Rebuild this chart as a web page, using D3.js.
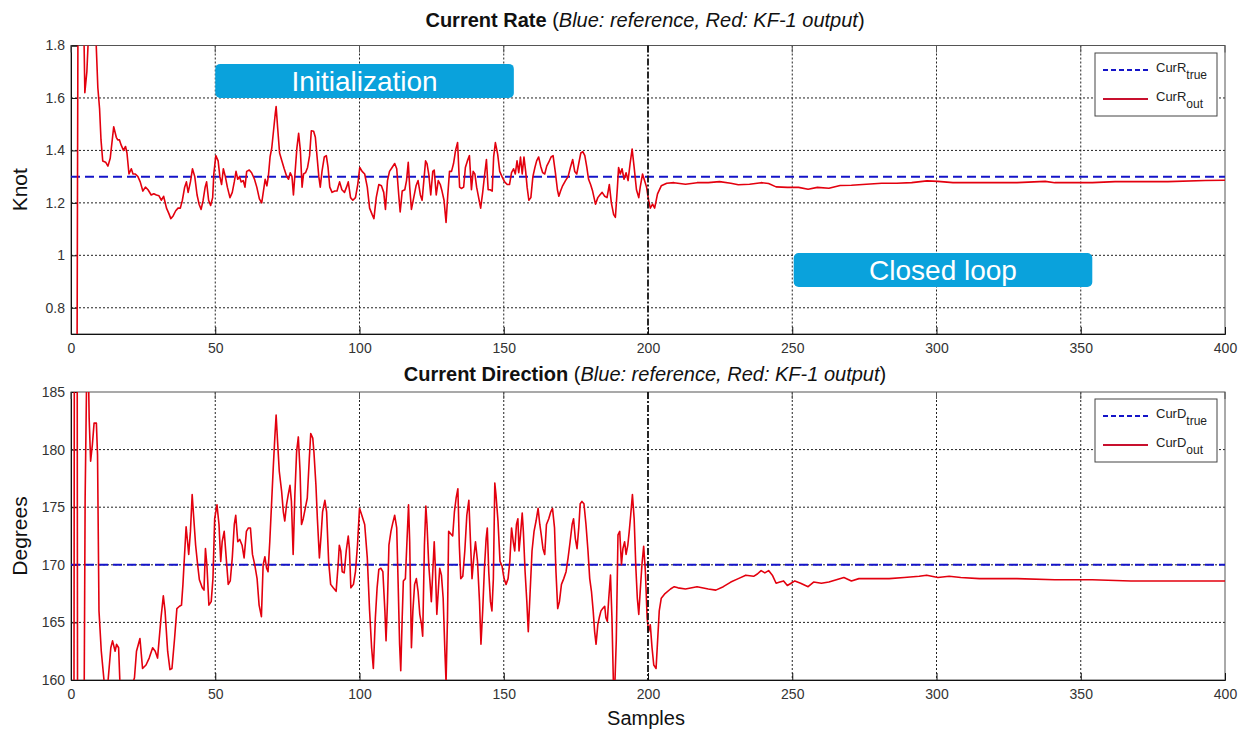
<!DOCTYPE html>
<html>
<head>
<meta charset="utf-8">
<script src="https://cdn.jsdelivr.net/npm/d3@7/dist/d3.min.js"></script>
<style>
  html, body { margin: 0; padding: 0; background: #fff; }
  svg { display: block; font-family: "Liberation Sans", Arial, sans-serif; }
</style>
</head>
<body>
<svg id="chart" width="1246" height="731"></svg>
<script>
// ---------------- DATA ----------------
const xTicks = [0, 50, 100, 150, 200, 250, 300, 350, 400];
const rateTicks = [0.8, 1, 1.2, 1.4, 1.6, 1.8];
const dirTicks = [160, 165, 170, 175, 180, 185];
const rateTrue = 1.3;
const dirTrue = 170;
const switchSample = 200;

// Current rate, KF-1 output: [sample, knot]
const rateOut = [[0,0.2],[1,0.2],[2,0.2],[2.3,1.45],[2.6,2.6],[3.5,2.3],[4.4,1.9],[4.8,1.62],[5.5,1.7],[6.3,1.9],[7.4,2.1],[8.5,1.87],[9.3,1.64],[9.9,1.56],[10.4,1.44],[11,1.36],[12,1.355],[12.8,1.34],[13.6,1.37],[14.3,1.44],[14.8,1.49],[15.7,1.45],[16.2,1.44],[16.8,1.44],[17.4,1.42],[18.2,1.4],[18.9,1.415],[19.4,1.39],[20.1,1.31],[20.9,1.33],[21.5,1.31],[22.3,1.31],[23.2,1.3],[24,1.28],[24.9,1.245],[25.8,1.26],[26.7,1.25],[27.8,1.23],[28.7,1.235],[29.6,1.23],[30.5,1.227],[31.3,1.21],[32.1,1.225],[33.1,1.18],[33.9,1.16],[34.6,1.14],[35.4,1.15],[36.3,1.17],[37.1,1.18],[37.9,1.18],[38.6,1.21],[39.4,1.26],[40,1.28],[40.6,1.24],[41.4,1.28],[42.1,1.33],[42.9,1.30],[43.7,1.23],[44.4,1.195],[45.1,1.175],[45.8,1.21],[46.5,1.26],[47,1.28],[47.7,1.21],[48.4,1.19],[49.1,1.22],[49.5,1.31],[50.2,1.38],[51,1.36],[51.6,1.30],[52.2,1.27],[52.8,1.33],[53.5,1.30],[54.2,1.26],[55.1,1.22],[55.9,1.24],[56.6,1.28],[57.2,1.32],[57.8,1.29],[58.4,1.30],[59,1.28],[59.7,1.285],[60.3,1.26],[60.9,1.32],[61.8,1.325],[62.6,1.315],[63.6,1.29],[64.4,1.26],[65.3,1.215],[66.1,1.20],[66.7,1.245],[67.3,1.29],[67.9,1.265],[68.4,1.30],[69,1.375],[69.6,1.41],[70.2,1.475],[70.8,1.54],[71.1,1.567],[71.6,1.49],[72.3,1.39],[73.1,1.36],[73.9,1.33],[74.8,1.30],[75.4,1.29],[76,1.315],[76.6,1.30],[77.1,1.23],[77.7,1.32],[78.3,1.41],[78.9,1.465],[79.5,1.40],[80.1,1.26],[80.6,1.31],[81.3,1.315],[82,1.335],[82.7,1.38],[83.3,1.475],[84.1,1.473],[84.7,1.45],[85.3,1.375],[85.9,1.30],[86.4,1.26],[87,1.32],[87.8,1.375],[88.5,1.38],[89.1,1.335],[89.7,1.26],[90.5,1.24],[91.4,1.245],[92.2,1.245],[93.1,1.28],[93.9,1.25],[94.8,1.24],[95.5,1.26],[96.1,1.28],[96.9,1.22],[97.7,1.21],[98.6,1.22],[99.4,1.27],[100.1,1.335],[100.9,1.32],[101.8,1.31],[102.7,1.26],[103.5,1.18],[104.4,1.155],[105,1.14],[105.8,1.22],[106.7,1.27],[107.6,1.265],[108.4,1.24],[109,1.175],[109.7,1.285],[110.4,1.32],[111.3,1.335],[112.2,1.35],[112.9,1.33],[113.6,1.23],[114.1,1.165],[114.8,1.245],[115.7,1.25],[116.3,1.285],[116.9,1.355],[117.4,1.26],[118,1.175],[118.8,1.22],[119.6,1.265],[120.3,1.285],[121.1,1.23],[121.7,1.21],[122.3,1.285],[122.9,1.36],[123.4,1.35],[124,1.31],[124.7,1.23],[125.4,1.32],[125.9,1.325],[126.6,1.23],[127.3,1.285],[128,1.27],[128.6,1.245],[129.3,1.21],[130,1.125],[130.6,1.23],[131.2,1.32],[131.9,1.32],[132.6,1.35],[133.3,1.40],[134,1.43],[134.7,1.26],[135.3,1.255],[136.1,1.26],[136.7,1.335],[137.4,1.36],[138.1,1.38],[138.8,1.25],[139.4,1.32],[140,1.31],[140.6,1.26],[141.3,1.22],[142,1.18],[142.7,1.24],[143.4,1.31],[144,1.365],[144.6,1.25],[145.3,1.25],[146,1.245],[146.5,1.375],[147.1,1.43],[147.9,1.385],[148.6,1.32],[149.4,1.30],[150.3,1.28],[151.2,1.27],[152,1.27],[152.7,1.315],[153.4,1.33],[154,1.31],[154.6,1.36],[155.2,1.315],[155.8,1.375],[156.4,1.31],[157,1.375],[157.6,1.32],[158.1,1.26],[158.7,1.21],[159.4,1.22],[160.1,1.30],[160.8,1.335],[161.4,1.36],[162.1,1.375],[162.8,1.34],[163.5,1.315],[164.2,1.31],[164.9,1.34],[165.6,1.355],[166.4,1.375],[167.1,1.38],[167.9,1.315],[168.6,1.25],[169.1,1.225],[169.7,1.245],[170.4,1.265],[171.4,1.285],[172.3,1.30],[173.1,1.335],[173.9,1.365],[174.6,1.32],[175.3,1.31],[176,1.35],[176.7,1.39],[177.4,1.395],[178.1,1.38],[178.8,1.335],[179.4,1.29],[180.1,1.27],[180.8,1.245],[181.8,1.195],[182.6,1.22],[183.3,1.23],[184.1,1.24],[185,1.225],[185.8,1.22],[186.6,1.27],[187.3,1.20],[188.1,1.155],[188.7,1.145],[189.4,1.26],[189.8,1.335],[190.4,1.31],[191,1.33],[191.7,1.29],[192.4,1.315],[193.1,1.285],[193.8,1.35],[194.5,1.405],[195.2,1.335],[196,1.25],[196.8,1.22],[197.3,1.26],[198.1,1.31],[198.8,1.285],[199.5,1.26],[200.2,1.21],[200.8,1.18],[201.6,1.195],[202.3,1.18],[203.3,1.234],[204.6,1.265],[206.5,1.275],[209,1.277],[213,1.271],[217,1.277],[220.9,1.277],[224.8,1.281],[228.7,1.275],[231.3,1.269],[235.2,1.271],[239.2,1.277],[241.8,1.274],[244.4,1.261],[248.3,1.259],[252.2,1.259],[255.5,1.252],[258.7,1.259],[262.7,1.256],[266.6,1.266],[270.5,1.267],[275.7,1.271],[281,1.275],[286.2,1.275],[291.4,1.277],[296.7,1.284],[300.5,1.282],[305.7,1.277],[314.9,1.277],[327.9,1.277],[337.7,1.282],[341,1.277],[354,1.277],[361.9,1.281],[380.2,1.281],[393.2,1.285],[400,1.286]];

// Current direction, KF-1 output: [sample, degrees]
const dirOut = [[0,150],[1,150],[1.2,200],[2.1,200],[2.3,150],[4.4,150],[4.9,175.8],[5.7,192],[6.3,182.7],[6.8,179],[7.4,180.4],[8,182.3],[8.8,182.3],[9.2,179.5],[9.7,166],[10.5,162.5],[11.8,159],[12.6,159.2],[13.8,162.8],[14.4,163.4],[15.3,162.5],[15.8,163.1],[16.5,162.8],[17,159.5],[18,159],[19,159],[20.8,159.2],[22,160.2],[22.7,162.5],[23.9,163.6],[24.8,161],[26,161.3],[27.1,161.9],[28.3,162.8],[29.2,162.5],[30,161.9],[31.2,165.4],[32,167.3],[32.6,166],[33.5,162.5],[34.3,160.9],[35,161],[35.9,163.6],[36.7,166.2],[37.6,166.4],[38.3,166.5],[38.8,168.3],[39.3,170.6],[39.9,173.3],[40.4,172],[40.8,170.9],[41.4,172.9],[42,176.1],[42.4,174.6],[43.2,171.7],[43.9,170],[44.5,168.7],[45.5,168],[46.1,167.8],[46.6,171.4],[47.1,170],[47.8,166.5],[48.6,166.8],[49.2,168.8],[49.8,174],[50.6,175.2],[51.3,173.5],[51.9,170.3],[52.4,172],[53.1,172.9],[53.8,170.6],[54.5,168.3],[55.2,168.6],[55.9,170.6],[56.6,173.5],[57.1,174.3],[57.8,172],[58.5,172.2],[59.3,171.7],[60,170.6],[60.8,172.9],[61.5,173.2],[62.2,173.2],[62.9,170.9],[63.7,170],[64.5,168.8],[65.2,166.5],[66,165.5],[66.6,170],[67.2,170.7],[67.8,169.7],[68.3,169.4],[68.9,172],[69.5,175.2],[70.1,178.4],[70.7,181.3],[71.1,183],[71.6,180.7],[72.2,178.1],[73,176.4],[73.6,174.6],[74.1,173.8],[74.7,175.2],[75.3,176.1],[75.9,176.9],[76.4,175.5],[77,170.9],[77.6,176.1],[78.2,179.8],[78.8,181.1],[79.4,178.1],[79.9,173.5],[80.5,174],[81.2,174.9],[81.9,175.8],[82.6,179.2],[83.1,181.4],[83.8,181],[84.2,179.8],[84.9,176.9],[85.4,174],[86.1,170.6],[86.7,172.6],[87.2,174.6],[88,175.6],[88.6,174.6],[89.3,170.3],[90,168.3],[90.9,168],[91.9,167.7],[92.6,170],[93,171.7],[93.5,171.2],[94,169.4],[94.7,169.3],[95.4,171.2],[96.1,172.5],[96.5,171.4],[97,168],[97.9,168.3],[98.6,169.4],[99.3,171.7],[100,174.9],[100.8,174.3],[101.8,173.5],[102.7,170.6],[103.5,166],[104.2,162.8],[104.8,161],[105.5,165.4],[106.1,168],[106.7,169.6],[107.4,169.7],[108.1,169.4],[108.8,166],[109.2,163.4],[109.7,166.8],[110.2,171.7],[110.9,172.9],[111.5,173.6],[112.2,174.3],[112.9,173.2],[113.4,168.3],[113.9,163.1],[114.3,160.8],[114.8,165.4],[115.2,168.6],[115.9,168.8],[116.5,172.3],[117,175.2],[117.4,172],[118,162.8],[118.5,166],[119.1,168.3],[119.7,168.8],[120.3,167.7],[120.9,165.7],[121.5,164.8],[121.9,163.8],[122.5,171.7],[123,175.1],[123.4,173.5],[124,170],[124.5,168.3],[124.9,166.8],[125.4,169.4],[125.9,172],[126.3,169.7],[126.8,165.7],[127.3,167.7],[127.8,169.7],[128.4,169.1],[129,167.1],[129.6,162.5],[130,159.8],[130.5,165.4],[130.9,172.9],[131.6,172.7],[132.3,172.5],[132.9,174.6],[133.5,175.8],[134.1,176.6],[134.6,171.7],[135.1,168.8],[135.8,169],[136.5,171.2],[137.2,174.3],[137.9,175.6],[138.6,171.2],[139,168.8],[139.6,170.6],[140.2,172],[140.9,170.3],[141.6,166.8],[142.1,163.1],[142.7,166],[143.3,169.7],[143.9,172.3],[144.3,173.2],[144.8,169.4],[145.4,166.8],[145.9,166],[146.4,168.8],[146.9,177.1],[147.3,176.1],[148,173.8],[148.7,170.3],[149.4,169.9],[150.1,168.8],[150.8,168.3],[151.5,168.8],[152.1,170.3],[152.7,173.2],[153.3,172],[153.8,171.2],[154.4,173.5],[154.9,174],[155.3,171.2],[155.8,172.6],[156.4,174.5],[156.8,172.9],[157.4,169.4],[158,166.8],[158.5,164.2],[159.1,167.4],[159.8,171.2],[160.5,172.9],[161.2,173.8],[161.9,174.9],[162.5,173.5],[163,172.6],[163.6,171.4],[164.2,170.9],[164.8,173.5],[165.6,174],[166.3,174.6],[166.9,174.9],[167.6,173.2],[168.1,169.4],[168.7,166.2],[169.3,166.8],[170,168.3],[170.8,168.8],[171.6,169.4],[172.3,170.6],[173,172],[173.7,173.5],[174.2,174],[174.8,172.3],[175.4,171.4],[176,173.2],[176.5,175.3],[177.1,175.5],[177.8,175.3],[178.5,173.5],[179.2,171.2],[179.8,168.8],[180.4,167.7],[181,166],[181.5,164.2],[182,163.1],[182.6,164.8],[183.1,165.4],[183.7,166],[184.3,166.2],[185,166.4],[185.4,165.4],[185.9,165.1],[186.4,167.1],[187,169.1],[187.5,165.4],[188,159.8],[188.5,159.5],[189,163.4],[189.6,172.6],[190.2,172.9],[190.8,170],[191.3,171.4],[191.9,172],[192.4,170.9],[193,171.7],[193.5,172.9],[194,174.3],[194.6,176.1],[195.2,174],[195.8,169.7],[196.3,167.1],[196.8,165.7],[197.3,167.7],[197.9,170],[198.5,171.6],[199.1,169.4],[199.7,165.4],[200.2,164.2],[200.8,164.8],[201.4,162.8],[202,161.3],[202.8,161],[203.9,166],[204.6,167.1],[205.9,167.5],[207.8,167.9],[209.1,168.1],[210.4,168],[213,167.9],[217,168.1],[220.9,167.9],[223.5,167.8],[226.1,168.1],[228.7,168.5],[231.3,168.8],[233.9,169.1],[236.6,169],[237.9,169.2],[239.2,169.5],[240.5,169.3],[241.8,169.5],[243.1,169.1],[244.4,168.4],[245.7,168.5],[247,168.6],[248.3,168.2],[249.6,168.4],[250.9,168.6],[252.9,168.4],[255.5,168.1],[257.4,168.5],[260.1,168.4],[262.7,168.5],[265.3,168.7],[267.9,168.9],[270.5,168.6],[273.1,168.8],[278.3,168.8],[283.6,168.8],[288.8,168.9],[294,169],[296.6,169.1],[300.5,168.9],[304.4,169],[308.4,168.9],[314.9,168.8],[327.9,168.8],[341,168.7],[354,168.7],[367.4,168.6],[383,168.6],[389.6,168.6],[400,168.6]];

// Annotation labels: [text, start sample, end sample, centre value on rate axis]
const noteTexts = ["Initialization", "Closed loop"];
const noteStart = [50, 250.5];
const noteEnd = [153.5, 354];
const noteCentre = [1.665, 0.944];

// ---------------- DRAWING ----------------
const svg = d3.select("#chart");
const FONT = '"Liberation Sans", Arial, sans-serif';
const RED = "#e3000e", BLUE = "#1414c8", BOX = "#0aa2dc";

const panels = [
  { id: "rate", top: 45.5, bottom: 334, domain: [0.7, 1.8], ticks: rateTicks, data: rateOut, ref: rateTrue,
    fmt: d => (d === 1 ? "1" : d.toFixed(1)),
    title: ["Current Rate", " (", "Blue: reference, Red: KF-1 output", ")"], titleY: 27,
    ylabel: "Knot", legendBase: "CurR", legendTop: 53 },
  { id: "dir", top: 392, bottom: 680, domain: [160, 185], ticks: dirTicks, data: dirOut, ref: dirTrue,
    fmt: d => String(d),
    title: ["Current Direction", " (", "Blue: reference, Red: KF-1 output", ")"], titleY: 381,
    ylabel: "Degrees", legendBase: "CurD", legendTop: 399 }
];
const left = 71, right = 1225;
const scales = {};

panels.forEach(p => {
  const x = d3.scaleLinear().domain([0, 400]).range([left, right]);
  const y = d3.scaleLinear().domain(p.domain).range([p.bottom, p.top]);
  scales[p.id] = { x, y };
  const g = svg.append("g");

  svg.append("clipPath").attr("id", "clip-" + p.id)
    .append("rect").attr("x", left).attr("y", p.top).attr("width", right - left).attr("height", p.bottom - p.top);

  // grid
  g.append("g").selectAll("line").data(xTicks.filter(t => t > 0 && t < 400 && t !== switchSample)).join("line")
    .attr("x1", d => x(d)).attr("x2", d => x(d)).attr("y1", p.top).attr("y2", p.bottom)
    .attr("stroke", "#222").attr("stroke-width", 1).attr("stroke-dasharray", "2,2");
  g.append("g").selectAll("line").data(p.ticks.filter(t => t > p.domain[0] && t < p.domain[1])).join("line")
    .attr("x1", left).attr("x2", right).attr("y1", d => y(d)).attr("y2", d => y(d))
    .attr("stroke", "#222").attr("stroke-width", 1).attr("stroke-dasharray", "2,2");

  // frame
  g.append("rect").attr("x", left).attr("y", p.top).attr("width", right - left).attr("height", p.bottom - p.top)
    .attr("fill", "none").attr("stroke", "#555").attr("stroke-width", 1);

  // axes (inside ticks)
  const xAxis = d3.axisBottom(x).tickValues(xTicks).tickSize(-7).tickPadding(9).tickFormat(d3.format("d"));
  const gx = g.append("g").attr("transform", `translate(0,${p.bottom})`).call(xAxis);
  gx.select(".domain").attr("stroke", "#111");
  gx.selectAll(".tick line").attr("stroke", "#111");
  gx.selectAll("text").attr("font-family", FONT).attr("font-size", 14).attr("fill", "#333");
  const yAxis = d3.axisLeft(y).tickValues(p.ticks).tickSize(-7).tickPadding(6).tickFormat(p.fmt);
  const gy = g.append("g").attr("transform", `translate(${left},0)`).call(yAxis);
  gy.select(".domain").attr("stroke", "#111");
  gy.selectAll(".tick line").attr("stroke", "#111");
  gy.selectAll("text").attr("font-family", FONT).attr("font-size", 14).attr("fill", "#333");

  g.append("g").selectAll("line").data(xTicks).join("line")
    .attr("x1", d => x(d)).attr("x2", d => x(d)).attr("y1", p.top).attr("y2", p.top + 7).attr("stroke", "#555");

  // reference dashed blue line
  g.append("line").attr("clip-path", `url(#clip-${p.id})`)
    .attr("x1", x(0)).attr("x2", x(400)).attr("y1", y(p.ref)).attr("y2", y(p.ref))
    .attr("stroke", BLUE).attr("stroke-width", 2).attr("stroke-dasharray", "9,5");

  // red output line
  const line = d3.line().x(d => x(d[0])).y(d => y(d[1]));
  g.append("path").datum(p.data).attr("clip-path", `url(#clip-${p.id})`)
    .attr("d", line).attr("fill", "none").attr("stroke", RED).attr("stroke-width", 1.6).attr("stroke-linejoin", "round");

  // switch line at 200
  g.append("line").attr("x1", x(switchSample)).attr("x2", x(switchSample)).attr("y1", p.top).attr("y2", p.bottom)
    .attr("stroke", "#111").attr("stroke-width", 1.8).attr("stroke-dasharray", "7,2,2,2");

  // title
  const t = svg.append("text").attr("x", 645).attr("y", p.titleY).attr("text-anchor", "middle")
    .attr("font-family", FONT).attr("font-size", 20).attr("fill", "#111");
  t.append("tspan").attr("font-weight", "bold").text(p.title[0]);
  t.append("tspan").text(p.title[1]);
  t.append("tspan").attr("font-style", "italic").text(p.title[2]);
  t.append("tspan").text(p.title[3]);

  // y label
  svg.append("text").attr("transform", `translate(27,${(p.top + p.bottom) / 2}) rotate(-90)`)
    .attr("text-anchor", "middle").attr("font-family", FONT).attr("font-size", 21).attr("fill", "#111").text(p.ylabel);

  // legend
  const lg = svg.append("g");
  const lx = 1095, lw = 122, lt = p.legendTop, lh = 63;
  lg.append("rect").attr("x", lx).attr("y", lt).attr("width", lw).attr("height", lh)
    .attr("fill", "#fff").attr("stroke", "#444").attr("stroke-width", 1);
  const entries = [
    { sub: "true", stroke: BLUE, dash: "5,3", w: 2 },
    { sub: "out", stroke: "#c8102e", dash: null, w: 2 }
  ];
  entries.forEach((e, i) => {
    const cy = lt + 17 + i * 29;
    lg.append("line").attr("x1", lx + 8).attr("x2", lx + 53).attr("y1", cy).attr("y2", cy)
      .attr("stroke", e.stroke).attr("stroke-width", e.w).attr("stroke-dasharray", e.dash);
    const tx = lg.append("text").attr("x", lx + 61).attr("y", cy + 2).attr("font-family", FONT)
      .attr("font-size", 13).attr("fill", "#222");
    tx.append("tspan").text(p.legendBase);
    tx.append("tspan").attr("dy", 7).attr("font-size", 12).text(e.sub);
  });
});

// x label
svg.append("text").attr("x", 646).attr("y", 725).attr("text-anchor", "middle")
  .attr("font-family", FONT).attr("font-size", 20).attr("fill", "#111").text("Samples");

// annotation boxes (placed in the rate panel's data coordinates)
const xs = scales.rate.x, ys = scales.rate.y;
noteTexts.forEach((txt, i) => {
  const cy = ys(noteCentre[i]), h = 34;
  svg.append("rect").attr("x", xs(noteStart[i])).attr("y", cy - h / 2)
    .attr("width", xs(noteEnd[i]) - xs(noteStart[i])).attr("height", h)
    .attr("rx", 5).attr("fill", BOX);
  svg.append("text").attr("x", (xs(noteStart[i]) + xs(noteEnd[i])) / 2).attr("y", cy + 10)
    .attr("text-anchor", "middle").attr("font-family", FONT).attr("font-size", 28).attr("fill", "#fff").text(txt);
});
</script>
</body>
</html>
